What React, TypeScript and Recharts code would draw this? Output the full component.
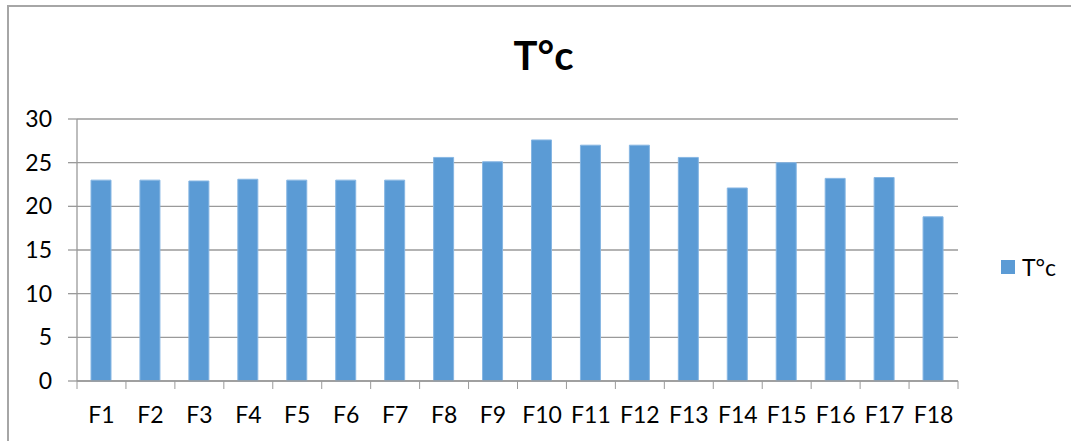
import { BarChart, Bar, XAxis, YAxis, CartesianGrid } from 'recharts';

const categories = ['F1', 'F2', 'F3', 'F4', 'F5', 'F6', 'F7', 'F8', 'F9', 'F10', 'F11', 'F12', 'F13', 'F14', 'F15', 'F16', 'F17', 'F18'];
const temperatures = [23.0, 23.0, 22.9, 23.1, 23.0, 23.0, 23.0, 25.6, 25.1, 27.6, 27.0, 27.0, 25.6, 22.1, 25.0, 23.2, 23.3, 18.8];
const yTicks = [0, 5, 10, 15, 20, 25, 30];
const seriesName = 'T°c';

const data = categories.map((name, i) => ({ name, value: temperatures[i] }));

const W = 1071;
const H = 441;
const margin = { top: 119, right: 113, bottom: 20, left: 0 };
const yAxisWidth = 77;
const plotWidth = W - margin.left - margin.right - yAxisWidth;
const band = plotWidth / categories.length;
const xTickSize = 8;
const xTickMargin = 18;
const axisColor = '#9a9a9a';
const barColor = '#5b9bd5';
const font = 'Lato, "Open Sans", sans-serif';

function CategoryTick(props: any) {
    const { x, y, payload, index } = props;
    const axisY = y - xTickSize - xTickMargin;
    const left = x - band / 2;
    const right = x + band / 2;
    return (
        <g>
            <line x1={left} x2={left} y1={axisY} y2={axisY + xTickSize} stroke={axisColor} />
            {index === categories.length - 1 && (
                <line x1={right} x2={right} y1={axisY} y2={axisY + xTickSize} stroke={axisColor} />
            )}
            <text x={x} y={y} dy="0.71em" textAnchor="middle" fill="#000" fontSize={23} fontFamily={font}>
                {payload.value}
            </text>
        </g>
    );
}

export default function App() {
    return (
        <div style={{ position: 'fixed', left: 0, top: 0, width: W, height: H, background: '#fff', overflow: 'hidden' }}>
            <div style={{ position: 'absolute', left: 7, top: 5, width: 1200, height: 600, borderLeft: `2px solid #a6a6a6`, borderTop: `2px solid #a6a6a6` }} />
            <div style={{ position: 'absolute', left: 0, width: 1087, top: 30, textAlign: 'center', fontFamily: font, fontWeight: 700, fontSize: 40, lineHeight: '50px', color: '#000' }}>
                {seriesName}
            </div>
            <div style={{ position: 'absolute', left: 1001, top: 253, display: 'flex', alignItems: 'center', fontFamily: font, fontSize: 23, color: '#000' }}>
                <span style={{ display: 'inline-block', width: 14, height: 14, background: barColor, marginRight: 7 }} />
                <span>{seriesName}</span>
            </div>
            <div style={{ position: 'absolute', left: 0, top: 0 }}>
                <BarChart width={W} height={H} data={data} margin={margin} barSize={20}>
                    <CartesianGrid vertical={false} stroke={axisColor} strokeWidth={1.3} />
                    <XAxis
                        dataKey="name"
                        height={40}
                        interval={0}
                        stroke={axisColor}
                        strokeWidth={1.3}
                        tickLine={false}
                        tickSize={xTickSize}
                        tickMargin={xTickMargin}
                        tick={<CategoryTick />}
                    />
                    <YAxis
                        width={yAxisWidth}
                        domain={[0, 30]}
                        ticks={yTicks}
                        interval={0}
                        stroke={axisColor}
                        strokeWidth={1.3}
                        tickSize={9}
                        tickMargin={16}
                        tick={{ fill: '#000', fontSize: 23, fontFamily: font }}
                    />
                    <Bar dataKey="value" name={seriesName} fill={barColor} stroke="#86b6e3" strokeWidth={1} isAnimationActive={false} />
                </BarChart>
            </div>
        </div>
    );
}
